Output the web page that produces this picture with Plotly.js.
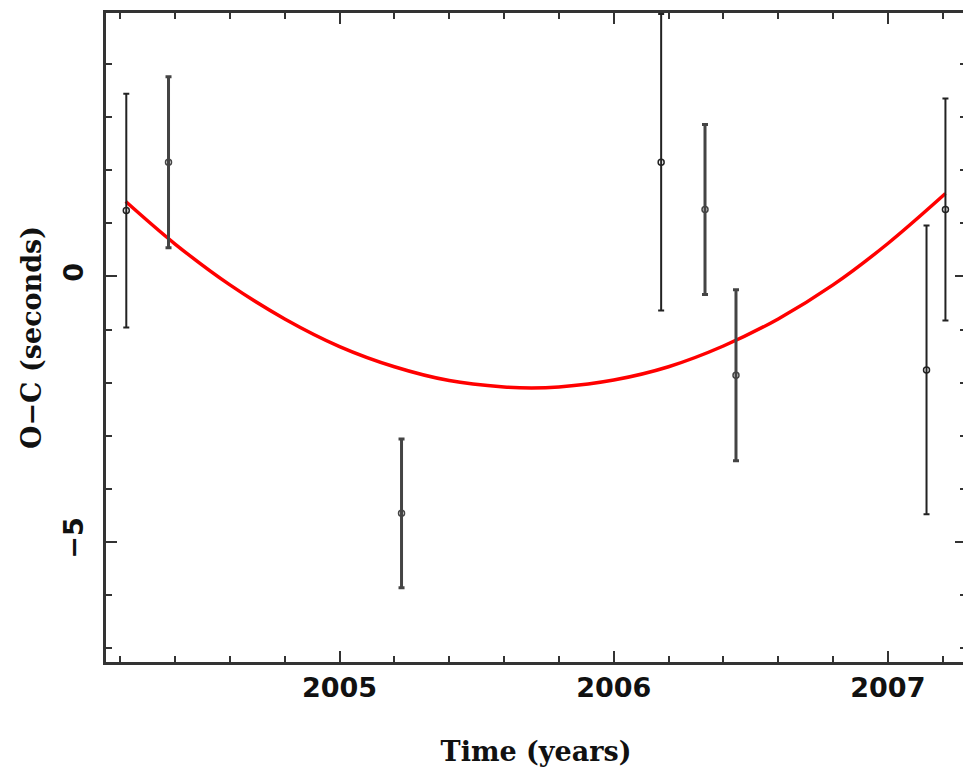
<!DOCTYPE html>
<html>
<head>
<meta charset="utf-8">
<script src="https://cdn.plot.ly/plotly-3.0.1.min.js"></script>
<style>
html,body{margin:0;padding:0;overflow:hidden;background:#fff;}
#chart{width:966px;height:770px;}
</style>
</head>
<body>
<div id="chart"></div>
<script>
// Observations (years, O-C seconds, 1-sigma error)
const obsTimeThick = [2004.376, 2005.226, 2006.333, 2006.446];
const obsOCThick   = [2.15, -4.46, 1.26, -1.86];
const obsErrThick  = [1.61, 1.40, 1.60, 1.61];

const obsTimeThin = [2004.222, 2006.173, 2007.141, 2007.210];
const obsOCThin   = [1.24, 2.15, -1.76, 1.26];
const obsErrThin  = [2.20, 2.79, 2.72, 2.09];

// Fitted curve
const fitTime = [2004.22, 2004.4, 2004.6, 2004.8, 2005.0, 2005.2, 2005.4, 2005.6, 2005.7, 2005.8, 2006.0, 2006.2, 2006.4, 2006.6, 2006.8, 2007.0, 2007.21];
const fitOC   = [1.41, 0.61, -0.16, -0.80, -1.32, -1.70, -1.96, -2.08, -2.10, -2.08, -1.95, -1.70, -1.31, -0.80, -0.16, 0.62, 1.56];

const xTickVals = [2005, 2006, 2007];
const xTickText = ['2005', '2006', '2007'];
const yTickVals = [-5, 0];
const yTickText = ['\u22125', '0'];

const axisColor = '#333333';
const tickFont = {family: 'DejaVu Sans', size: 27, color: '#111111', weight: 'bold'};
const titleFont = {family: 'DejaVu Serif', size: 27, color: '#111111', weight: 'bold'};

const traces = [
  {
    x: fitTime, y: fitOC, type: 'scatter', mode: 'lines',
    line: {color: '#ff0000', width: 3.5, shape: 'spline', smoothing: 1},
    hoverinfo: 'skip'
  },
  {
    x: obsTimeThin, y: obsOCThin, type: 'scatter', mode: 'markers',
    marker: {symbol: 'circle-open', size: 6, color: '#222222', line: {width: 1.5, color: '#222222'}},
    error_y: {type: 'data', array: obsErrThin, visible: true, color: '#222222', thickness: 2, width: 3}
  },
  {
    x: obsTimeThick, y: obsOCThick, type: 'scatter', mode: 'markers',
    marker: {symbol: 'circle-open', size: 6, color: '#444444', line: {width: 1.5, color: '#444444'}},
    error_y: {type: 'data', array: obsErrThick, visible: true, color: '#444444', thickness: 3, width: 3}
  }
];

const layout = {
  width: 966, height: 770,
  margin: {l: 106, r: 0, t: 13, b: 108},
  paper_bgcolor: '#ffffff', plot_bgcolor: '#ffffff',
  showlegend: false,
  xaxis: {
    range: [2004.148, 2007.285],
    showgrid: false, zeroline: false,
    showline: true, linecolor: axisColor, linewidth: 3, mirror: 'ticks',
    ticks: 'inside', ticklen: 11, tickwidth: 2, tickcolor: axisColor,
    tickvals: xTickVals, ticktext: xTickText,
    tickfont: tickFont, ticklabelstandoff: 0,
    minor: {dtick: 0.2, tick0: 2004, ticks: 'inside', ticklen: 6, tickwidth: 2, tickcolor: axisColor, showgrid: false},
    title: {text: 'Time (years)', font: titleFont, standoff: 40}
  },
  yaxis: {
    range: [-7.26, 4.96],
    showgrid: false, zeroline: false,
    showline: true, linecolor: axisColor, linewidth: 3, mirror: 'ticks',
    ticks: 'inside', ticklen: 11, tickwidth: 2, tickcolor: axisColor,
    tickvals: yTickVals, ticktext: yTickText, tickangle: -90,
    tickfont: tickFont, ticklabelstandoff: 9,
    minor: {dtick: 1, tick0: 0, ticks: 'inside', ticklen: 6, tickwidth: 2, tickcolor: axisColor, showgrid: false},
    title: {text: 'O\u2212C (seconds)', font: titleFont, standoff: 9}
  }
};

Plotly.newPlot('chart', traces, layout, {displayModeBar: false, staticPlot: true});
</script>
</body>
</html>
